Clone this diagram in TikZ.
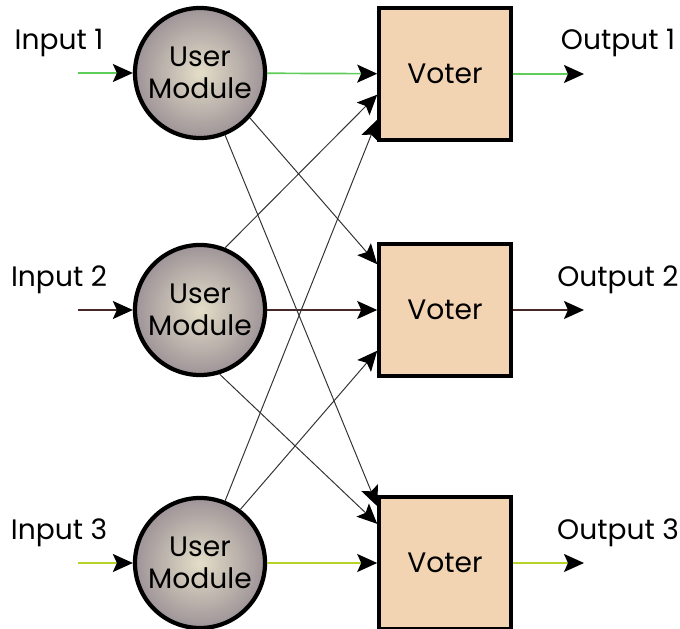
\documentclass[tikz,border=0pt]{standalone}
\usepackage{fontspec}
\setmainfont{Poppins}
\usetikzlibrary{arrows.meta, positioning}

\definecolor{wireone}{RGB}{95,205,90}
\definecolor{wiretwo}{RGB}{70,40,40}
\definecolor{wirethree}{RGB}{185,210,40}
\definecolor{votefill}{RGB}{242,212,178}
\definecolor{modin}{RGB}{228,222,200}
\definecolor{modout}{RGB}{158,148,152}

\begin{document}
\begin{tikzpicture}[x=0.025cm, y=-0.025cm,
    module/.style={circle, draw, line width=3pt, minimum size=3.25cm, inner sep=0,
        shading=radial, inner color=modin, outer color=modout, align=center,
        font=\fontsize{20}{23}\selectfont},
    voter/.style={rectangle, draw, line width=2.5pt, minimum size=3.3cm, fill=votefill,
        font=\fontsize{20}{23}\selectfont},
    tag/.style={inner sep=0, font=\fontsize{20}{23}\selectfont},
    wire/.style={line width=1.2pt, -{Stealth[length=5mm, width=4.5mm, inset=1mm, black]}},
    cross/.style={line width=0.7pt, black!80, -{Stealth[length=5mm, width=4.5mm, inset=1mm, black]}}]

    \useasboundingbox (0,0) rectangle (680,629);

    \node[module] (m1) at (200,73) {User\\Module};
    \node[module] (m2) at (200,310) {User\\Module};
    \node[module] (m3) at (200,563) {User\\Module};

    \node[voter] (v1) at (445,74) {Voter};
    \node[voter] (v2) at (445,310) {Voter};
    \node[voter] (v3) at (445,563) {Voter};

    \node[tag] (in1) at (59,43) {Input 1};
    \node[tag] (in2) at (59,280) {Input 2};
    \node[tag] (in3) at (59,533) {Input 3};
    \node[tag] (out1) at (618,43) {Output 1};
    \node[tag] (out2) at (618,280) {Output 2};
    \node[tag] (out3) at (618,533) {Output 3};

    \coordinate (s1) at (78,73);
    \coordinate (s2) at (78,310);
    \coordinate (s3) at (78,563);
    \coordinate (e1) at (584,74);
    \coordinate (e2) at (584,310);
    \coordinate (e3) at (584,563);

    % straight paths
    \draw[wire, draw=wireone] (s1) -- (m1);
    \draw[wire, draw=wireone] (m1) -- (v1);
    \draw[wire, draw=wireone] (v1) -- (e1);
    \draw[wire, draw=wiretwo] (s2) -- (m2);
    \draw[wire, draw=wiretwo] (m2) -- (v2);
    \draw[wire, draw=wiretwo] (v2) -- (e2);
    \draw[wire, draw=wirethree] (s3) -- (m3);
    \draw[wire, draw=wirethree] (m3) -- (v3);
    \draw[wire, draw=wirethree] (v3) -- (e3);

    % cross paths
    \draw[cross] (m1.-42) -- (v2.146);
    \draw[cross] (m1.-68) -- (v3.140);
    \draw[cross] (m2.68) -- (v1.197);
    \draw[cross] (m2.-73) -- (v3.150);
    \draw[cross] (m3.68) -- (v1.214);
    \draw[cross] (m3.53) -- (v2.211);
\end{tikzpicture}
\end{document}
